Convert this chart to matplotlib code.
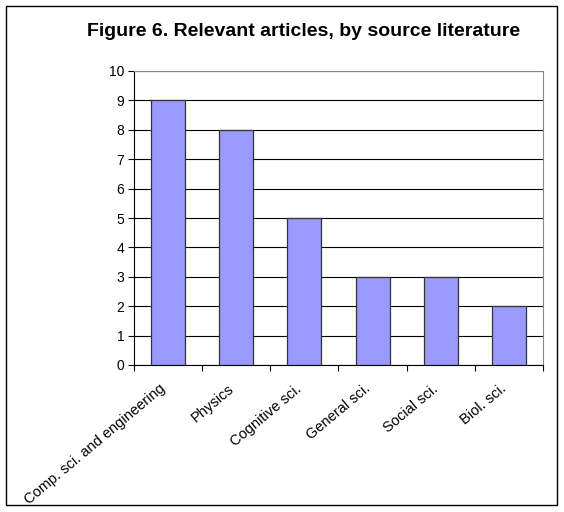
import matplotlib
matplotlib.use("Agg")
import matplotlib.pyplot as plt
from matplotlib.patches import Rectangle

categories = ["Comp. sci. and engineering", "Physics", "Cognitive sci.",
              "General sci.", "Social sci.", "Biol. sci."]
values = [9, 8, 5, 3, 3, 2]

plt.rcParams['font.family'] = ['Liberation Sans', 'DejaVu Sans']

fig = plt.figure(figsize=(5.64, 5.12), dpi=100)
fig.patch.set_facecolor('white')
fig.add_artist(Rectangle((6/564, 1-505/512), 551/564, 499/512, transform=fig.transFigure,
                         fill=False, edgecolor='black', linewidth=1))

ax = fig.add_axes([134/564, 1-365/512, 409/564, 294/512])
x = list(range(len(categories)))
ax.bar(x, values, width=0.5, color='#9999FF', edgecolor='#333333', linewidth=0.9, zorder=3)
ax.set_xlim(-0.5, len(categories) - 0.5)
ax.set_ylim(0, 10)
ax.set_yticks(range(0, 11))
ax.yaxis.grid(True, color='black', linewidth=0.8, zorder=0)
ax.set_axisbelow(True)

ax.set_xticks([i - 0.5 for i in range(len(categories) + 1)])
ax.set_xticklabels([])
ax.tick_params(axis='x', direction='out', length=4, width=0.8, color='black')
ax.tick_params(axis='y', direction='out', length=4, width=0.8, labelsize=10, pad=3)
for s in ax.spines.values():
    s.set_color('black')
    s.set_linewidth(0.8)
ax.spines['top'].set_color('#888888')
ax.spines['right'].set_color('#888888')

for i, c in enumerate(categories):
    ax.annotate(c, xy=(i, 0), xycoords='data', xytext=(-6.5, -12), textcoords='offset points',
                rotation=40, ha='right', va='top', rotation_mode='anchor', fontsize=10.5)

fig.text(304/564, 1-32/512, "Figure 6. Relevant articles, by source literature",
         ha='center', va='center', fontsize=14, fontweight='bold')

fig.savefig('out.png', dpi=100)
